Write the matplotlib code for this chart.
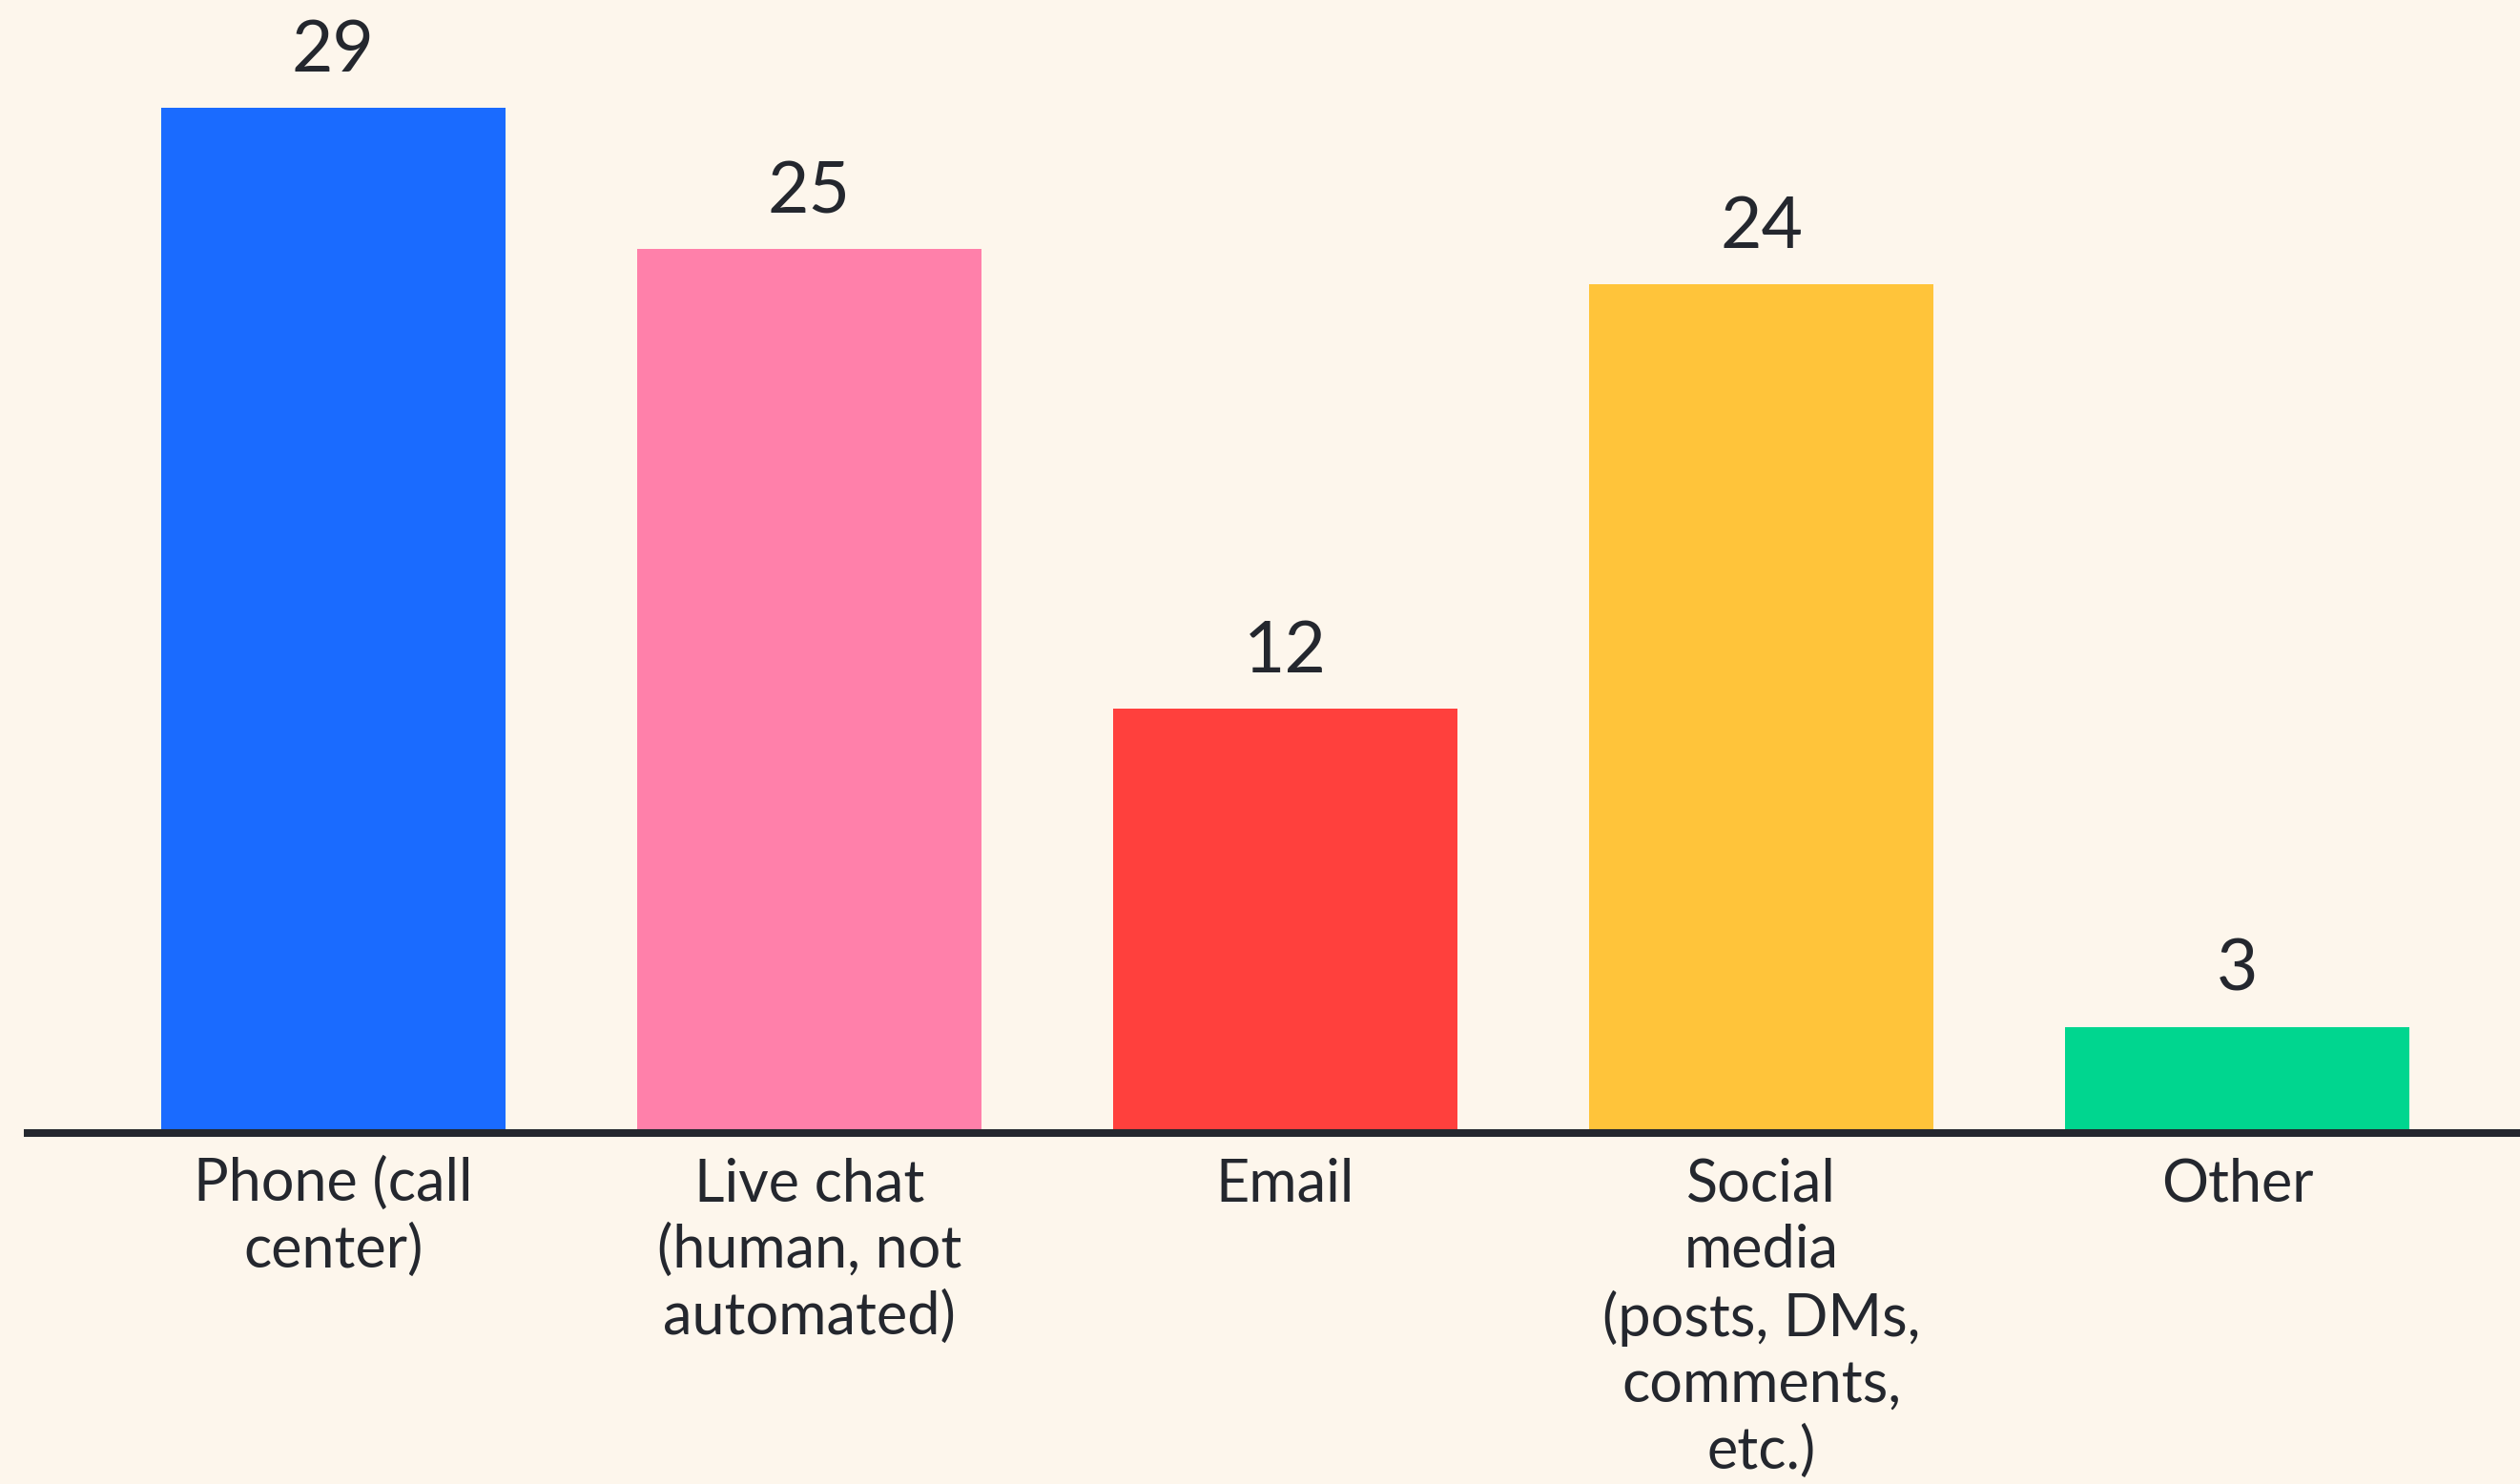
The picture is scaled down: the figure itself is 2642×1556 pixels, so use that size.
import matplotlib
matplotlib.use('Agg')
import matplotlib.pyplot as plt

channels = ['Phone (call\ncenter)', 'Live chat\n(human, not\nautomated)', 'Email',
            'Social\nmedia\n(posts, DMs,\ncomments,\netc.)', 'Other']
values = [29, 25, 12, 24, 3]
colors = ['#1A6BFF', '#FF80AA', '#FF403D', '#FFC43A', '#00D68F']

bg = '#FDF6EC'
ink = '#24272E'

plt.rcParams['font.family'] = ['Lato', 'DejaVu Sans']

fig = plt.figure(figsize=(13.21, 7.78), dpi=200, facecolor=bg)
ax = fig.add_axes([1 - 2613 / 2642, 1 - 1188 / 1556, 2613 / 2642, 1188 / 1556])
ax.set_facecolor(bg)

x = range(len(values))
bars = ax.bar(x, values, width=0.723, color=colors, zorder=2)

for b, v in zip(bars, values):
    ax.annotate(str(v), (b.get_x() + b.get_width() / 2, v), xytext=(0, 9),
                textcoords='offset points', ha='center', va='bottom',
                fontsize=27, color=ink)

ax.set_xlim(-0.642, 4.594)
ax.set_ylim(0, 32.05)
ax.set_xticks(list(x))
ax.set_xticklabels(channels, fontsize=22, color=ink, linespacing=1.27)
ax.tick_params(axis='x', length=0, pad=9)
ax.set_yticks([])
for s in ['top', 'right', 'left']:
    ax.spines[s].set_visible(False)
ax.spines['bottom'].set_color(ink)
ax.spines['bottom'].set_linewidth(2.9)
ax.spines['bottom'].set_zorder(3)

fig.savefig('out.png', facecolor=bg)
